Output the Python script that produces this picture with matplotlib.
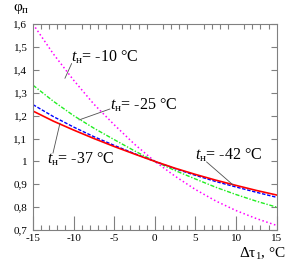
import numpy as np
import matplotlib
matplotlib.use("Agg")
import matplotlib.pyplot as plt
from matplotlib.ticker import MultipleLocator

plt.rcParams['font.family'] = ['Liberation Serif', 'DejaVu Serif']
plt.rcParams['mathtext.fontset'] = 'custom'
plt.rcParams['mathtext.rm'] = 'Liberation Serif'
plt.rcParams['mathtext.it'] = 'Liberation Serif:italic'

# delta tau_1, degC
dt = [-15, -12.5, -10, -7.5, -5, -2.5, 0, 2.5, 5, 7.5, 10, 12.5, 15]

phi_m10 = [1.60, 1.47, 1.355, 1.25, 1.16, 1.075, 1.0, 0.935, 0.877, 0.827, 0.785, 0.75, 0.72]
phi_m25 = [1.333, 1.263, 1.20, 1.145, 1.095, 1.046, 1.0, 0.96, 0.923, 0.887, 0.855, 0.826, 0.80]
phi_m37 = [1.248, 1.196, 1.15, 1.108, 1.07, 1.034, 1.0, 0.968, 0.939, 0.912, 0.888, 0.865, 0.843]
phi_m42 = [1.22, 1.176, 1.137, 1.10, 1.065, 1.032, 1.0, 0.97, 0.943, 0.918, 0.895, 0.873, 0.853]

xticks = [-15, -10, -5, 0, 5, 10, 15]
xtick_labels = ["-15", "-10", "-5", "0", "5", "10", "15"]
yticks = [0.7, 0.8, 0.9, 1.0, 1.1, 1.2, 1.3, 1.4, 1.5, 1.6]
ytick_labels = ["0,7", "0,8", "0,9", "1", "1,1", "1,2", "1,3", "1,4", "1,5", "1,6"]

gray = "#808080"

fig = plt.figure(figsize=(2.92, 2.65), dpi=100)
ax = fig.add_axes([0.113, 0.132, 0.8345, 0.777])

ax.plot(dt, phi_m10, color="#FF00FF", linestyle=":", linewidth=1.1)
ax.plot(dt, phi_m25, color="#22EE22", linestyle="-.", linewidth=1.0, dashes=(3, 1.2, 1, 1.2))
ax.plot(dt, phi_m37, color="#0000FF", linestyle="--", linewidth=1.0, dashes=(2.5, 1.2))
ax.plot(dt, phi_m42, color="#FF0000", linestyle="-", linewidth=1.2)

ax.set_xlim(-15, 15)
ax.set_ylim(0.7, 1.6)
ax.set_xticks(xticks)
ax.set_xticklabels(xtick_labels)
ax.set_yticks(yticks)
ax.set_yticklabels(ytick_labels)
ax.xaxis.set_minor_locator(MultipleLocator(1))

for s in ax.spines.values():
    s.set_color(gray)
    s.set_linewidth(0.8)

ax.tick_params(axis="x", which="major", direction="in", length=10, width=0.8,
               color=gray, labelsize=8, pad=3, top=False)
ax.tick_params(axis="x", which="minor", direction="in", length=3.5, width=0.8,
               color=gray, top=True)
ax.tick_params(axis="y", which="major", direction="in", length=4, width=0.8,
               color=gray, labelsize=8, right=True, pad=4)

# curve labels with pointer lines
labels = [
    ("$t_{\\mathrm{н}}$= -10 °C", (-10.33, 1.456), (-10.24, 1.428), (-11.07, 1.363)),
    ("$t_{\\mathrm{н}}$= -25 °C", (-5.53, 1.246), (-5.53, 1.229), (-9.34, 1.181)),
    ("$t_{\\mathrm{н}}$= -37 °C", (-13.28, 1.010), (-12.54, 1.036), (-11.68, 1.167)),
    ("$t_{\\mathrm{н}}$= -42 °C", (4.92, 1.028), (6.36, 0.998), (9.63, 0.897)),
]
for txt, pos, p0, p1 in labels:
    ax.text(pos[0], pos[1], txt, fontsize=11.5, ha="left", va="center")
    ax.annotate("", xy=p1, xytext=p0,
                arrowprops=dict(arrowstyle="-", color="#505050", lw=0.6,
                                shrinkA=0, shrinkB=0))

fig.text(13 / 292, 1 - 2 / 265, "$\\mathrm{φ}_{\\mathrm{п}}$", fontsize=11,
         ha="left", va="top")
fig.text(286 / 292, 1 - 262 / 265, "$\\mathrm{Δτ}_{1}$, °C", fontsize=11,
         ha="right", va="bottom")

fig.savefig("out.png", dpi=100)
